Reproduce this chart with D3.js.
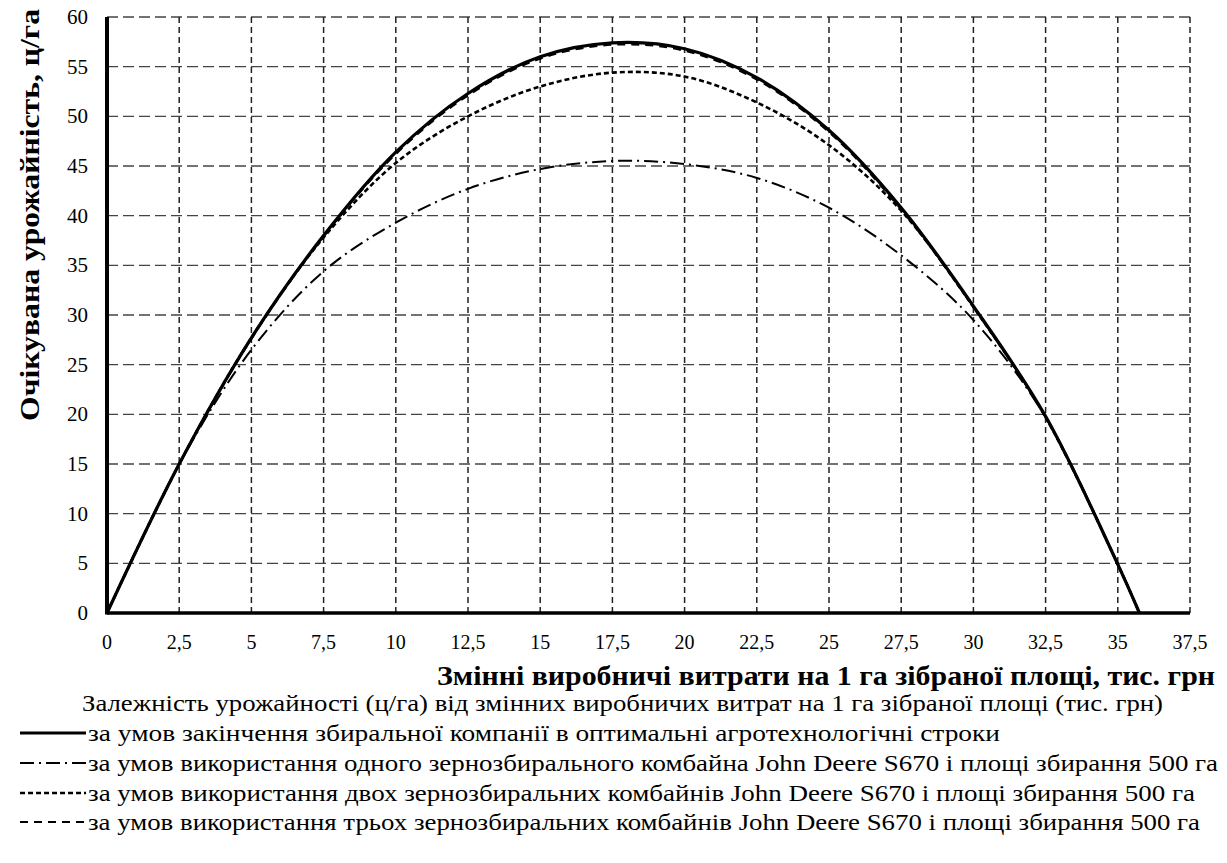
<!DOCTYPE html>
<html>
<head>
<meta charset="utf-8">
<script src="https://cdn.jsdelivr.net/npm/d3@7"></script>
</head>
<body style="margin:0">
<svg width="1227" height="863"></svg>
<script>
const svg = d3.select("svg");
const serif = d => `"Liberation Serif", monospace`;

// values
const xs = [0, 2.5, 5, 7.5, 10, 12.5, 15, 17.5, 20, 22.5, 25, 27.5, 30, 32.5, 35, 35.75];
const optimal = [0, 15.0, 27.7, 38.0, 46.4, 52.3, 56.0, 57.4, 56.8, 53.9, 48.6, 40.8, 30.9, 19.8, 4.9, 0];
const oneCombine = [0, 15.0, 26.5, 34.4, 39.3, 42.7, 44.7, 45.5, 45.2, 43.8, 40.8, 36.0, 29.5, 19.7, 4.9, 0];
const twoCombines = [0, 15.0, 27.7, 37.8, 45.3, 50.0, 53.0, 54.4, 54.0, 51.4, 47.1, 40.5, 30.8, 19.7, 4.9, 0];
const threeCombines = [0, 15.0, 27.6, 37.9, 46.2, 52.1, 55.8, 57.2, 56.6, 53.7, 48.4, 40.6, 30.8, 19.7, 4.9, 0];

const xTicks = [0, 2.5, 5, 7.5, 10, 12.5, 15, 17.5, 20, 22.5, 25, 27.5, 30, 32.5, 35, 37.5];
const yTicks = [0, 5, 10, 15, 20, 25, 30, 35, 40, 45, 50, 55, 60];

const legendTitle = "Залежність урожайності  (ц/га) від змінних виробничих витрат на  1 га зібраної площі (тис. грн)";
const legendLabels = [
  "за умов закінчення збиральної компанії в оптимальні агротехнологічні строки",
  "за умов використання одного зернозбирального комбайна John Deere S670 і  площі збирання 500 га",
  "за умов використання двох зернозбиральних комбайнів John Deere S670 і  площі збирання 500 га",
  "за умов використання трьох зернозбиральних комбайнів John Deere S670 і  площі збирання 500 га"
];

const x = d3.scaleLinear().domain([0, 37.5]).range([107, 1190]);
const y = d3.scaleLinear().domain([0, 60]).range([613, 17]);

// grid
svg.append("g")
  .selectAll("line")
  .data(yTicks.filter(d => d > 0))
  .join("line")
  .attr("x1", x(0)).attr("x2", x(37.5))
  .attr("y1", d => y(d)).attr("y2", d => y(d))
  .attr("stroke", "#444")
  .attr("stroke-width", 1.4)
  .attr("stroke-dasharray", "11,5");

svg.append("g")
  .selectAll("line")
  .data(xTicks.filter(d => d > 0))
  .join("line")
  .attr("x1", d => x(d)).attr("x2", d => x(d))
  .attr("y1", y(0)).attr("y2", y(60))
  .attr("stroke", "#222")
  .attr("stroke-width", 1.5)
  .attr("stroke-dasharray", "6,4");

// axes
svg.append("line")
  .attr("x1", x(0)).attr("x2", x(37.5))
  .attr("y1", y(0)).attr("y2", y(0))
  .attr("stroke", "#000").attr("stroke-width", 3.5);
svg.append("line")
  .attr("x1", x(0)).attr("x2", x(0))
  .attr("y1", y(0) + 1.5).attr("y2", y(60))
  .attr("stroke", "#000").attr("stroke-width", 4);

// tick labels
svg.selectAll("text.ytick")
  .data(yTicks)
  .join("text")
  .attr("class", "ytick")
  .attr("x", 88)
  .attr("y", d => y(d) + 7)
  .attr("text-anchor", "end")
  .attr("font-size", 21)
  .style("font-family", serif)
  .text(d => d);

svg.selectAll("text.xtick")
  .data(xTicks)
  .join("text")
  .attr("class", "xtick")
  .attr("x", d => x(d))
  .attr("y", 649)
  .attr("text-anchor", "middle")
  .attr("font-size", 20)
  .style("font-family", serif)
  .text(d => String(d).replace(".", ","));

// axis titles
svg.append("text")
  .attr("x", 1215).attr("y", 685)
  .attr("text-anchor", "end")
  .attr("font-size", 27)
  .attr("font-weight", "bold")
  .attr("textLength", 778)
  .attr("lengthAdjust", "spacingAndGlyphs")
  .style("font-family", serif)
  .text("Змінні  виробничі витрати на 1 га зібраної площі, тис. грн");

svg.append("text")
  .attr("transform", "translate(39,215) rotate(-90)")
  .attr("text-anchor", "middle")
  .attr("font-size", 27)
  .attr("font-weight", "bold")
  .attr("textLength", 412)
  .attr("lengthAdjust", "spacingAndGlyphs")
  .style("font-family", serif)
  .text("Очікувана урожайність, ц/га");

// curves
const series = [
  { values: threeCombines, dash: "8,6", width: 2 },
  { values: oneCombine, dash: "14,5,2,5", width: 2 },
  { values: twoCombines, dash: "5,3", width: 2.6 },
  { values: optimal, dash: null, width: 3.2 }
];

const line = d3.line()
  .x((d, i) => x(xs[i]))
  .y(d => y(d))
  .curve(d3.curveCatmullRom.alpha(0.5));

svg.append("g")
  .selectAll("path")
  .data(series)
  .join("path")
  .attr("d", d => line(d.values))
  .attr("fill", "none")
  .attr("stroke", "#000")
  .attr("stroke-width", d => d.width)
  .attr("stroke-dasharray", d => d.dash);

// legend
svg.append("text")
  .attr("x", 82).attr("y", 711)
  .attr("font-size", 24)
  .attr("textLength", 1081)
  .attr("lengthAdjust", "spacingAndGlyphs")
  .style("font-family", serif)
  .text(legendTitle);

const legendStyles = [series[3], series[1], series[2], series[0]];
const legendEnds = [1000, 1218, 1195, 1200];
const legendY = [733, 763, 793, 822];

svg.selectAll("line.legline")
  .data(legendLabels)
  .join("line")
  .attr("class", "legline")
  .attr("x1", 20).attr("x2", 86)
  .attr("y1", (d, i) => legendY[i]).attr("y2", (d, i) => legendY[i])
  .attr("stroke", "#000")
  .attr("stroke-width", (d, i) => legendStyles[i].width)
  .attr("stroke-dasharray", (d, i) => legendStyles[i].dash);

svg.selectAll("text.legtext")
  .data(legendLabels)
  .join("text")
  .attr("class", "legtext")
  .attr("x", 88)
  .attr("y", (d, i) => legendY[i] + 8)
  .attr("font-size", 24)
  .attr("textLength", (d, i) => legendEnds[i] - 88)
  .attr("lengthAdjust", "spacingAndGlyphs")
  .style("font-family", serif)
  .text(d => d);
</script>
</body>
</html>
